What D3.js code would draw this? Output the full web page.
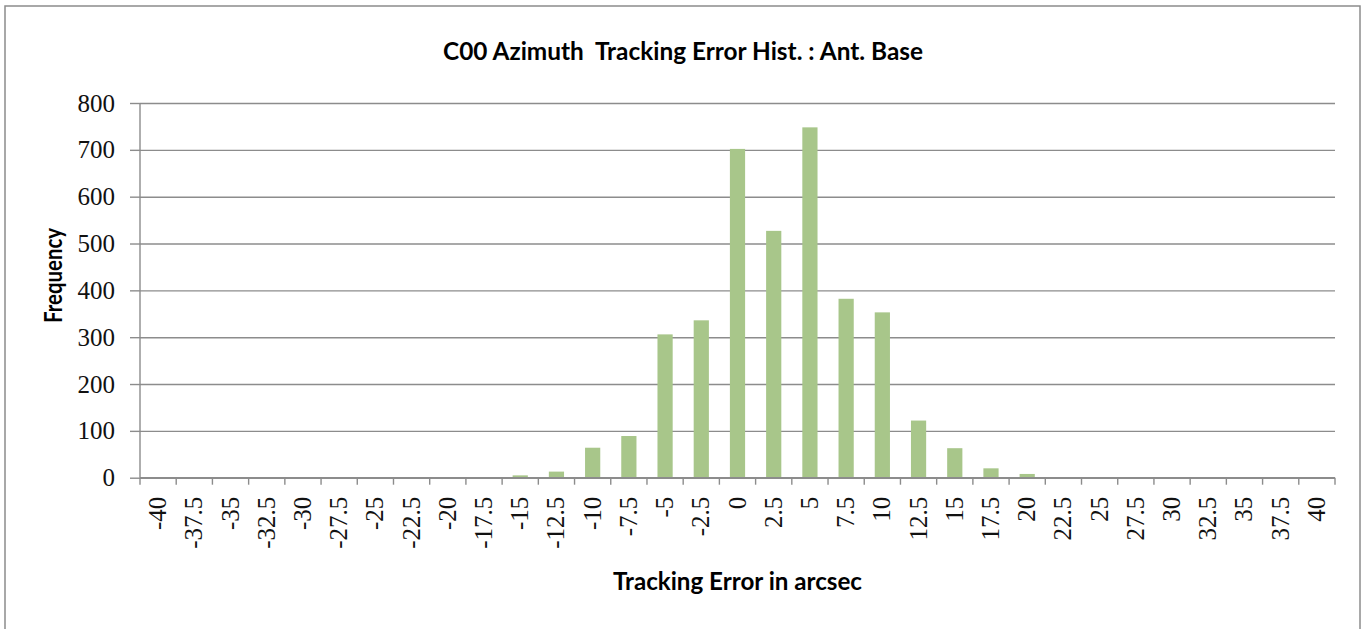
<!DOCTYPE html>
<html>
<head>
<meta charset="utf-8">
<script src="https://cdn.jsdelivr.net/npm/d3@7"></script>
<style>
  body { margin: 0; background: #fff; }
  svg { display: block; }
  .title { white-space: pre; }
</style>
</head>
<body>
<div id="chart"></div>
<script>
// tracking error bins (arcsec) and their counts
const bins = [-40, -37.5, -35, -32.5, -30, -27.5, -25, -22.5, -20, -17.5, -15, -12.5, -10, -7.5, -5, -2.5,
              0, 2.5, 5, 7.5, 10, 12.5, 15, 17.5, 20, 22.5, 25, 27.5, 30, 32.5, 35, 37.5, 40];
const counts = [0, 0, 0, 0, 0, 0, 0, 0, 0, 0, 5, 13, 64, 89, 306, 336,
                702, 527, 748, 382, 353, 122, 63, 20, 8, 0, 0, 0, 0, 0, 0, 0, 0];
const yTicks = [0, 100, 200, 300, 400, 500, 600, 700, 800];

const W = 1366, H = 629;
const plot = { left: 140, right: 1335, top: 103, bottom: 477.7 };

const svg = d3.select("#chart").append("svg")
    .attr("width", W)
    .attr("height", H);

// chart border (runs off the bottom of the picture)
svg.append("rect")
    .attr("x", 5).attr("y", 6)
    .attr("width", 1355).attr("height", 640)
    .attr("fill", "#fff")
    .attr("stroke", "#8c8c8c")
    .attr("stroke-width", 1.5);

var x = d3.scaleBand()
    .domain(bins)
    .range([plot.left, plot.right])
    .paddingInner(0.58)
    .paddingOuter(0.29);

var y = d3.scaleLinear()
    .domain([0, 800])
    .range([plot.bottom, plot.top]);

// gridlines + y axis
var yAxis = svg.append("g")
    .attr("transform", "translate(" + plot.left + ",0)")
    .call(d3.axisLeft(y).tickValues(yTicks).tickSize(10).tickPadding(15));
yAxis.select(".domain").remove();
yAxis.selectAll(".tick line").attr("stroke", "#8c8c8c").attr("stroke-width", 1.4);
yAxis.selectAll(".tick").append("line")
    .attr("x1", 0).attr("x2", plot.right - plot.left)
    .attr("stroke", "#8c8c8c").attr("stroke-width", 1.4);
yAxis.selectAll(".tick text")
    .attr("font-family", "'Liberation Serif', 'Times New Roman', serif")
    .attr("font-size", 25)
    .attr("fill", "#111");

svg.append("line")
    .attr("x1", plot.left).attr("x2", plot.left)
    .attr("y1", plot.top).attr("y2", plot.bottom)
    .attr("stroke", "#8c8c8c").attr("stroke-width", 1.4);

// bars
svg.append("g").selectAll("rect")
    .data(bins)
    .join("rect")
    .attr("x", (d) => x(d))
    .attr("width", x.bandwidth())
    .attr("y", (d, i) => y(counts[i]))
    .attr("height", (d, i) => y(0) - y(counts[i]))
    .attr("fill", "#a8c68a");

// x axis: ticks sit on the band edges
var step = x.step();
var xAxis = svg.append("g")
    .attr("transform", "translate(0," + plot.bottom + ")");
xAxis.append("line")
    .attr("x1", plot.left).attr("x2", plot.right)
    .attr("stroke", "#8c8c8c").attr("stroke-width", 1.4);
xAxis.selectAll(".edge")
    .data(d3.range(bins.length + 1))
    .join("line")
    .attr("class", "edge")
    .attr("x1", (i) => plot.left + i * step)
    .attr("x2", (i) => plot.left + i * step)
    .attr("y1", 0).attr("y2", 7)
    .attr("stroke", "#8c8c8c").attr("stroke-width", 1.4);
xAxis.selectAll(".lbl")
    .data(bins)
    .join("text")
    .attr("class", "lbl")
    .attr("transform", (d) => "translate(" + (x(d) + x.bandwidth() / 2 + 8) + ",19) rotate(-90)")
    .attr("text-anchor", "end")
    .attr("font-family", "'Liberation Serif', 'Times New Roman', serif")
    .attr("font-size", 25)
    .attr("fill", "#111")
    .text((d) => d);

// titles
svg.append("text")
    .attr("class", "title")
    .attr("x", 683).attr("y", 60)
    .attr("text-anchor", "middle")
    .attr("font-family", "Lato, 'Open Sans', sans-serif")
    .attr("font-weight", "bold")
    .attr("font-size", 24)
    .attr("textLength", 480)
    .attr("lengthAdjust", "spacingAndGlyphs")
    .text("C00 Azimuth  Tracking Error Hist. : Ant. Base");

svg.append("text")
    .attr("x", (plot.left + plot.right) / 2).attr("y", 590)
    .attr("text-anchor", "middle")
    .attr("font-family", "Lato, 'Open Sans', sans-serif")
    .attr("font-weight", "bold")
    .attr("font-size", 24)
    .attr("textLength", 249)
    .attr("lengthAdjust", "spacingAndGlyphs")
    .text("Tracking Error in arcsec");

svg.append("text")
    .attr("transform", "translate(62,275.5) rotate(-90)")
    .attr("text-anchor", "middle")
    .attr("font-family", "Lato, 'Open Sans', sans-serif")
    .attr("font-weight", "bold")
    .attr("font-size", 24)
    .attr("textLength", 95)
    .attr("lengthAdjust", "spacingAndGlyphs")
    .text("Frequency");
</script>
</body>
</html>
